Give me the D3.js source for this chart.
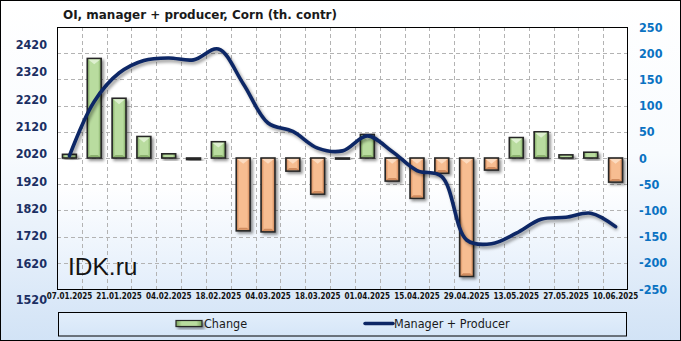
<!DOCTYPE html>
<html>
<head>
<meta charset="utf-8">
<script src="https://cdn.jsdelivr.net/npm/d3@7"></script>
<style>
html,body{margin:0;padding:0;background:#fff;}
svg{display:block;}
text{font-family:"DejaVu Sans Condensed","DejaVu Sans",sans-serif;}
</style>
</head>
<body>
<svg id="chart" width="681" height="341"></svg>
<script>
// ---- data ----
const dates = ["07.01.2025","14.01.2025","21.01.2025","28.01.2025","04.02.2025","11.02.2025","18.02.2025","25.02.2025",
  "04.03.2025","11.03.2025","18.03.2025","25.03.2025","01.04.2025","08.04.2025","15.04.2025","22.04.2025",
  "29.04.2025","06.05.2025","13.05.2025","20.05.2025","27.05.2025","03.06.2025","10.06.2025"];
const changeValues = [7, 190, 114, 41, 8, -3, 31, -139, -141, -25, -69, -2, 45, -44, -77, -29, -226, -23, 39, 50, 6, 11, -46];
const managerProducer = [2011, 2210, 2314, 2360, 2369, 2362, 2402, 2275, 2131, 2100, 2039, 2029, 2084, 2027, 1957, 1935, 1703, 1689, 1728, 1779, 1786, 1801, 1752];
const leftTicks = [1520,1620,1720,1820,1920,2020,2120,2220,2320,2420];
const rightTicks = [-250,-200,-150,-100,-50,0,50,100,150,200,250];
const title = "OI,  manager  +  producer,  Corn  (th. contr)";
const seriesNames = ["Change","Manager + Producer"];

// ---- layout ----
const W = 681, H = 341;
const plot = {l:57, r:628, t:27, b:289};
const svg = d3.select("#chart");
const defs = svg.append("defs");

function lin(id, x2, y2, stops){
  const g = defs.append("linearGradient").attr("id", id).attr("x1",0).attr("y1",0).attr("x2",x2).attr("y2",y2);
  stops.forEach(s => g.append("stop").attr("offset", s[0]).attr("stop-color", s[1]));
}
lin("bgGrad",0,1,[[0,"#ffffff"],[0.45,"#f8fbfe"],[1,"#d2e3f6"]]);
lin("plotGrad",0,1,[[0,"#ffffff"],[0.6,"#ffffff"],[1,"#e3eefb"]]);
lin("legGrad",0,1,[[0,"#e2eefb"],[1,"#d6e6f8"]]);
lin("greenGrad",1,0,[[0,"#7aa45c"],[0.22,"#b9dc9f"],[0.78,"#b9dc9f"],[1,"#7aa45c"]]);
lin("orangeGrad",1,0,[[0,"#c97c4c"],[0.22,"#f7bd91"],[0.78,"#f7bd91"],[1,"#c97c4c"]]);

const sh = defs.append("filter").attr("id","shadow").attr("x","-50%").attr("y","-50%").attr("width","200%").attr("height","200%");
sh.append("feDropShadow").attr("dx",2).attr("dy",2).attr("stdDeviation",1.6).attr("flood-color","#000").attr("flood-opacity",0.45);
const lsh = defs.append("filter").attr("id","lshadow").attr("x","-10%").attr("y","-10%").attr("width","120%").attr("height","130%");
lsh.append("feGaussianBlur").attr("stdDeviation",1.5);

// background
svg.append("rect").attr("x",0.5).attr("y",0.5).attr("width",W-1).attr("height",H-1)
  .attr("fill","url(#bgGrad)").attr("stroke","#000").attr("stroke-width",1);

// scales
const x = d3.scaleBand().domain(dates).range([plot.l, plot.r]).paddingInner(0.44).paddingOuter(0.22);
const yR = d3.scaleLinear().domain([-250,250]).range([plot.b, plot.t]);
const yL = d3.scaleLinear().domain([1520,2420]).range([290,44]);

// plot area
svg.append("rect").attr("x",plot.l).attr("y",plot.t).attr("width",plot.r-plot.l).attr("height",plot.b-plot.t)
  .attr("fill","url(#plotGrad)");

// grid
const grid = svg.append("g").attr("stroke","#b3b3b3").attr("stroke-width",1).attr("stroke-dasharray","4,3");
rightTicks.slice(1,-1).forEach(v => {
  grid.append("line").attr("x1",plot.l).attr("x2",plot.r).attr("y1",Math.round(yR(v))+0.5).attr("y2",Math.round(yR(v))+0.5);
});
dates.slice(1).forEach(d => {
  const gx = Math.round(x(d) - x.step()*x.paddingInner()/2) + 0.5;
  grid.append("line").attr("x1",gx).attr("x2",gx).attr("y1",plot.t).attr("y2",plot.b);
});

// watermark
svg.append("text").attr("x",68).attr("y",275).text("IDK.ru")
  .style("font-family","'Liberation Sans',Arial,sans-serif").style("font-size","24.5px").attr("fill","#141414");

// bars
const bars = svg.append("g");
changeValues.forEach((v,i) => {
  const bx = x(dates[i]), bw = x.bandwidth();
  const y0 = yR(0), y1 = yR(v);
  const top = Math.min(y0,y1), h = Math.max(Math.abs(y1-y0), 1);
  const pos = v >= 0;
  const g = bars.append("g");
  g.append("rect").attr("x",bx).attr("y",top).attr("width",bw).attr("height",h)
    .attr("fill", pos ? "url(#greenGrad)" : "url(#orangeGrad)")
    .attr("stroke","#262626").attr("stroke-width",1.6).attr("filter","url(#shadow)");
  if (h > 10) {
    const ins = bw*0.25;
    g.append("path")
      .attr("d",`M${bx+1},${top+1}L${bx+bw-1},${top+1}L${bx+bw/2},${top+1+ins*1.4}Z`)
      .attr("fill", pos ? "#e4f3d8" : "#fde0c8").attr("opacity",0.85);
    g.append("path")
      .attr("d",`M${bx+1},${top+h-1}L${bx+bw-1},${top+h-1}L${bx+bw-ins},${top+h-1-ins*0.6}L${bx+ins},${top+h-1-ins*0.6}Z`)
      .attr("fill", pos ? "#6e9650" : "#b86b3e").attr("opacity",0.6);
  }
});

// line
const line = d3.line().x((d,i) => x(dates[i]) + x.bandwidth()/2).y(d => yL(d)).curve(d3.curveCatmullRom.alpha(0.5));
svg.append("path").datum(managerProducer).attr("d",line).attr("fill","none")
  .attr("stroke","#000").attr("stroke-opacity",0.35).attr("stroke-width",4).attr("transform","translate(2,2.5)")
  .attr("filter","url(#lshadow)");
svg.append("path").datum(managerProducer).attr("d",line).attr("fill","none")
  .attr("stroke","#0d2766").attr("stroke-width",3.6).attr("stroke-linejoin","round").attr("stroke-linecap","round");

// plot border
svg.append("rect").attr("x",plot.l+0.5).attr("y",plot.t+0.5).attr("width",plot.r-plot.l-1).attr("height",plot.b-plot.t)
  .attr("fill","none").attr("stroke","#000").attr("stroke-width",1);

// left axis
const axL = svg.append("g").attr("transform",`translate(47,0)`)
  .call(d3.axisLeft(yL).tickValues(leftTicks).tickSize(0).tickPadding(0).tickFormat(d3.format("d")));
axL.select(".domain").remove();
axL.selectAll("text").style("font-size","12.5px").style("font-weight","bold").attr("fill","#1b2f63")
  .attr("dy", d => d === 1520 ? "1.05em" : "0.35em");

// right axis
const axR = svg.append("g").attr("transform",`translate(639,0)`)
  .call(d3.axisRight(yR).tickValues(rightTicks).tickSize(0).tickPadding(0).tickFormat(d => d));
axR.select(".domain").remove();
axR.selectAll("text").style("font-size","12.5px").style("font-weight","bold").attr("fill","#0a72c2");

// x axis labels
const axX = svg.append("g").attr("transform",`translate(0,293)`)
  .call(d3.axisBottom(x).tickValues(dates.filter((d,i) => i%2===0)).tickSize(0).tickPadding(0));
axX.select(".domain").remove();
axX.selectAll("text").style("font-size","8px").style("font-weight","bold").attr("fill","#111").attr("dy","0.71em");

// title
svg.append("text").attr("x",63).attr("y",18.5).text(title)
  .attr("textLength",274).attr("lengthAdjust","spacingAndGlyphs")
  .style("font-size","12px").style("font-weight","bold").attr("fill","#1a1a1a");

// legend
const leg = svg.append("g");
leg.append("rect").attr("x",58.5).attr("y",312.5).attr("width",568).attr("height",23.5)
  .attr("fill","url(#legGrad)").attr("stroke","#000").attr("stroke-width",1);
leg.append("rect").attr("x",176).attr("y",320.5).attr("width",26).attr("height",6)
  .attr("fill","url(#greenGrad)").attr("stroke","#262626").attr("stroke-width",1.2).attr("filter","url(#shadow)");
leg.append("text").attr("x",204).attr("y",328).text(seriesNames[0]).style("font-size","12.5px").attr("fill","#1a1a1a");
leg.append("line").attr("x1",365).attr("x2",393).attr("y1",323.5).attr("y2",323.5)
  .attr("stroke","#0d2766").attr("stroke-width",3.5).attr("stroke-linecap","round");
leg.append("text").attr("x",394).attr("y",328).text(seriesNames[1]).style("font-size","12.5px").attr("fill","#1a1a1a");
</script>
</body>
</html>
